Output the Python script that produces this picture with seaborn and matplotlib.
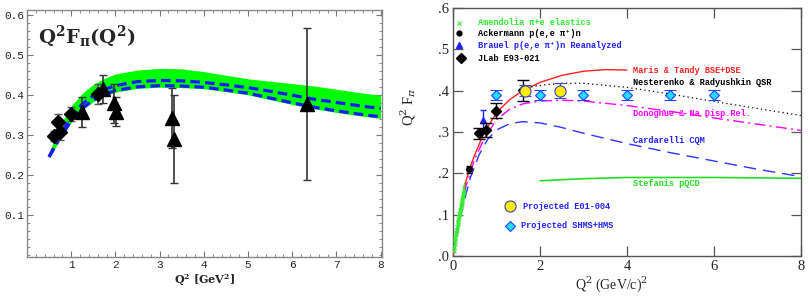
import matplotlib
matplotlib.use("Agg")
import matplotlib.pyplot as plt
import seaborn as sns
import numpy as np

# ---------------- left panel data ----------------
band_x = [0.5, 0.75, 1.0, 1.25, 1.5, 1.75, 2.0, 2.5, 3.0, 3.5, 4.0, 4.5, 5.0, 5.5, 6.0, 6.5, 7.0, 7.5, 8.0]
band_top = [0.255, 0.325, 0.372, 0.404, 0.426, 0.441, 0.452, 0.462, 0.466, 0.465, 0.458, 0.449, 0.440, 0.434, 0.428, 0.422, 0.414, 0.406, 0.399]
dash_up = [0.245, 0.300, 0.345, 0.377, 0.398, 0.413, 0.423, 0.433, 0.436, 0.435, 0.431, 0.425, 0.418, 0.409, 0.399, 0.389, 0.381, 0.373, 0.366]
dash_low = [0.245, 0.293, 0.335, 0.366, 0.387, 0.401, 0.411, 0.420, 0.423, 0.422, 0.419, 0.412, 0.404, 0.392, 0.380, 0.369, 0.360, 0.352, 0.345]
band_bot = [v - 0.004 for v in dash_low]

diam_x = [0.6, 0.7, 0.75, 1.0, 1.6]
diam_y = [0.297, 0.331, 0.307, 0.352, 0.402]
diam_err = [0.013, 0.02, 0.02, 0.018, 0.026]

tri_x = [1.25, 1.73, 1.96, 2.02, 3.29, 3.32, 6.33]
tri_y = [0.357, 0.414, 0.379, 0.358, 0.342, 0.290, 0.378]
tri_err = [0.037, 0.035, 0.049, 0.037, 0.076, 0.11, 0.19]

# ---------------- right panel data ----------------
amen_x = [0.015, 0.025, 0.035, 0.045, 0.055, 0.065, 0.075, 0.085, 0.095, 0.105, 0.115, 0.125,
          0.135, 0.145, 0.155, 0.165, 0.175, 0.185, 0.195, 0.205, 0.215, 0.225, 0.235, 0.245]
amen_y = [0.013, 0.022, 0.030, 0.038, 0.044, 0.052, 0.058, 0.064, 0.071, 0.077, 0.082, 0.089,
          0.094, 0.101, 0.105, 0.112, 0.118, 0.121, 0.129, 0.133, 0.141, 0.146, 0.152, 0.158]
amen_err = [0.004, 0.004, 0.005, 0.005, 0.006, 0.006, 0.007, 0.007, 0.008, 0.008, 0.009, 0.009,
            0.010, 0.011, 0.011, 0.012, 0.013, 0.014, 0.015, 0.016, 0.017, 0.018, 0.019, 0.020]

ack_x, ack_y, ack_err = [0.36], [0.21], [0.008]
brauel_x, brauel_y, brauel_err = [0.70], [0.33], [0.024]
jlab_x = [0.6, 0.75, 1.0, 1.6]
jlab_y = [0.297, 0.305, 0.352, 0.401]
jlab_err = [0.013, 0.016, 0.019, 0.026]

e01_x, e01_y, e01_err = [1.65, 2.45], [0.40, 0.40], [0.013, 0.018]
shms_x = [1, 2, 3, 4, 5, 6]
shms_y = [0.39, 0.39, 0.39, 0.39, 0.39, 0.39]
shms_err = [0.012, 0.012, 0.012, 0.012, 0.012, 0.012]

maris_x = [0, 0.05, 0.1, 0.2, 0.3, 0.4, 0.5, 0.7, 1.0, 1.3, 1.6, 2.0, 2.5, 3.0, 3.5, 4.0]
maris_y = [0, 0.035, 0.07, 0.135, 0.182, 0.217, 0.245, 0.295, 0.347, 0.378, 0.400, 0.420, 0.437, 0.447, 0.451, 0.450]
nest_x = [1.6, 2.0, 2.5, 3.0, 4.0, 5.0, 6.0, 7.0, 8.0]
nest_y = [0.405, 0.413, 0.418, 0.418, 0.408, 0.392, 0.374, 0.357, 0.340]
don_x = [0, 0.1, 0.2, 0.3, 0.5, 0.7, 1.0, 1.3, 1.6, 2.0, 2.5, 3.0, 4.0, 5.0, 6.0, 7.0, 8.0]
don_y = [0, 0.06, 0.12, 0.17, 0.235, 0.28, 0.33, 0.355, 0.368, 0.375, 0.377, 0.375, 0.364, 0.350, 0.334, 0.319, 0.304]
card_x = [0, 0.2, 0.4, 0.6, 0.8, 1.0, 1.3, 1.6, 2.0, 2.5, 3.0, 4.0, 5.0, 6.0, 7.0, 8.0]
card_y = [0, 0.11, 0.19, 0.245, 0.283, 0.305, 0.320, 0.325, 0.322, 0.311, 0.297, 0.272, 0.250, 0.230, 0.210, 0.192]
stef_x = [2, 3, 4, 5, 6, 7, 8]
stef_y = [0.182, 0.187, 0.190, 0.190, 0.190, 0.189, 0.188]

legend_rows = [("Amendolia π+e elastics", "#33ee33", 0.565),
               ("Ackermann p(e,e π⁺)n", "black", 0.539),
               ("Brauel p(e,e π⁺)n Reanalyzed", "#2222ff", 0.510),
               ("JLab E93-021", "black", 0.478)]
curve_labels = [("Maris & Tandy BSE+DSE", "#ff2020", 0.448),
                ("Nesterenko & Radyushkin QSR", "black", 0.419),
                ("Donoghue & Na Disp.Rel.", "#ff00ff", 0.344),
                ("Cardarelli CQM", "#2222ff", 0.279),
                ("Stefanis pQCD", "#22dd22", 0.176)]

left_xticks = [1, 2, 3, 4, 5, 6, 7, 8]
left_yticks = [0.1, 0.2, 0.3, 0.4, 0.5, 0.6]
right_xticks = [0, 2, 4, 6, 8]
right_yticks = [0, 0.1, 0.2, 0.3, 0.4, 0.5, 0.6]
right_ylabels = [".0", ".1", ".2", ".3", ".4", ".5", ".6"]

sns.set_style("ticks")
plt.rcParams['mathtext.fontset'] = 'dejavuserif'
mono = ['Liberation Mono', 'DejaVu Sans Mono']
serif = ['Liberation Serif', 'DejaVu Serif']

fig = plt.figure(figsize=(8.1, 2.98), dpi=100)
ax1 = fig.add_axes([0.0333, 0.1376, 0.4383, 0.829])
ax2 = fig.add_axes([0.5593, 0.141, 0.4293, 0.832])

# ---------------- left panel ----------------
ax1.fill_between(band_x, band_bot, band_top, color='#00ff00', lw=0, zorder=1)
sns.lineplot(x=band_x, y=dash_up, ax=ax1, color='#1a1aff', lw=2.3, linestyle=(0, (3, 1.6)), zorder=2)
sns.lineplot(x=band_x, y=dash_low, ax=ax1, color='#1a1aff', lw=2.3, linestyle=(0, (3, 1.6)), zorder=2)
ax1.errorbar(diam_x, diam_y, yerr=diam_err, fmt='D', ms=7, color='black', ecolor='#555555',
             elinewidth=1.2, capsize=3, zorder=4)
ax1.errorbar(tri_x, tri_y, yerr=tri_err, fmt='^', ms=10, color='black', ecolor='#333333',
             elinewidth=1.2, capsize=3, zorder=4)
ax1.set_xlim(0, 8.03)
ax1.set_ylim(-0.005, 0.612)
ax1.set_xticks(left_xticks)
ax1.set_xticklabels([str(t) for t in left_xticks], family=mono, fontsize=8)
ax1.set_yticks(left_yticks)
ax1.set_yticklabels(["%.1f" % t for t in left_yticks], family=mono, fontsize=8)
ax1.set_xticks(np.arange(0, 8.01, 0.2), minor=True)
ax1.set_yticks(np.arange(0, 0.61, 0.02), minor=True)
ax1.tick_params(which='both', direction='in', top=True, right=True, color='#777777', pad=2)
ax1.tick_params(which='major', length=4, width=0.8)
ax1.tick_params(which='minor', length=2, width=0.6)
for s in ax1.spines.values():
    s.set_color('#888888')
    s.set_linewidth(1.0)
ax1.set_xlabel(r'$\mathbf{Q^2\ [GeV^2]}$', fontsize=8, labelpad=2)
ax1.text(0.03, 0.945, r'$\mathbf{Q^2F_{\pi}(Q^2)}$', transform=ax1.transAxes,
         fontsize=14, va='top', ha='left')

# ---------------- right panel ----------------
sns.lineplot(x=maris_x, y=maris_y, ax=ax2, color='#ff2020', lw=1.0, zorder=3)
sns.lineplot(x=nest_x, y=nest_y, ax=ax2, color='black', lw=0.9, linestyle=(0, (1, 2.5)), zorder=3)
sns.lineplot(x=don_x, y=don_y, ax=ax2, color='#ff00ff', lw=1.0, linestyle=(0, (8, 3, 1.5, 3)), zorder=2)
sns.lineplot(x=card_x, y=card_y, ax=ax2, color='#3333ff', lw=1.0, linestyle=(0, (9, 5)), zorder=2)
sns.lineplot(x=stef_x, y=stef_y, ax=ax2, color='#22dd22', lw=1.2, zorder=2)

ax2.errorbar(amen_x, amen_y, yerr=amen_err, fmt='x', ms=3, mew=0.8, color='#33ee33',
             elinewidth=0.8, zorder=4)
ax2.errorbar(ack_x, ack_y, yerr=ack_err, fmt='o', ms=4, color='black', elinewidth=0.8, capsize=2, zorder=5)
ax2.errorbar(brauel_x, brauel_y, yerr=brauel_err, fmt='^', ms=4.5, color='#2222ff',
             elinewidth=1.0, capsize=2, zorder=4)
ax2.errorbar(jlab_x, jlab_y, yerr=jlab_err, fmt='D', ms=5.5, color='black', elinewidth=1.0,
             capsize=4, zorder=5)
ax2.errorbar(e01_x, e01_y, yerr=e01_err, fmt='o', ms=8, mfc='#ffee00', mec='#4444aa', mew=0.8,
             ecolor='#4444cc', elinewidth=1.0, capsize=4, zorder=6)
ax2.errorbar(shms_x, shms_y, yerr=shms_err, fmt='D', ms=5.5, mfc='#22ddff', mec='#2244ff', mew=0.8,
             ecolor='#2244ff', elinewidth=1.0, capsize=4.5, capthick=2.2, zorder=6)

# legend block
ax2.plot([0.145], [0.565], 'x', ms=3.5, mew=0.8, color='#33ee33')
ax2.plot([0.145], [0.539], 'o', ms=3.5, color='black')
ax2.plot([0.145], [0.510], '^', ms=4, color='#2222ff')
ax2.plot([0.18], [0.478], 'D', ms=5.5, color='black')
for txt, col, yy in legend_rows:
    ax2.text(0.58, yy, txt, color=col, family=mono, fontsize=6.2, fontweight='bold', va='center')
for txt, col, yy in curve_labels:
    ax2.text(4.14, yy, txt, color=col, family=mono, fontsize=6.2, fontweight='bold', va='center')
ax2.plot([1.31], [0.12], 'o', ms=8, mfc='#ffee00', mec='#4444aa', mew=0.8)
ax2.text(1.62, 0.12, "Projected E01-004", color='#2222ff', family=mono, fontsize=6.2,
         fontweight='bold', va='center')
ax2.plot([1.31], [0.073], 'D', ms=5.5, mfc='#22ddff', mec='#2244ff', mew=0.8)
ax2.text(1.57, 0.073, "Projected SHMS+HMS", color='#2222ff', family=mono, fontsize=6.2,
         fontweight='bold', va='center')

ax2.set_xlim(0, 8)
ax2.set_ylim(0, 0.6)
ax2.set_xticks(right_xticks)
ax2.set_xticklabels([str(t) for t in right_xticks], family=serif, fontsize=10.5)
ax2.set_yticks(right_yticks)
ax2.set_yticklabels(right_ylabels, family=serif, fontsize=10.5)
ax2.tick_params(which='major', direction='in', top=True, right=True, length=7, width=0.9,
                color='#555555', pad=3)
for s in ax2.spines.values():
    s.set_color('#555555')
    s.set_linewidth(1.0)
ax2.set_xlabel(r'Q$^2$ (GeV/c)$^2$', family=serif, fontsize=10, labelpad=0)
ax2.xaxis.set_label_coords(0.456, -0.075)
ax2.set_ylabel(r'Q$^2$ F$_\pi$', family=serif, fontsize=10.5)
ax2.yaxis.set_label_coords(-0.1, 0.6)

fig.savefig("out.png", dpi=100)
